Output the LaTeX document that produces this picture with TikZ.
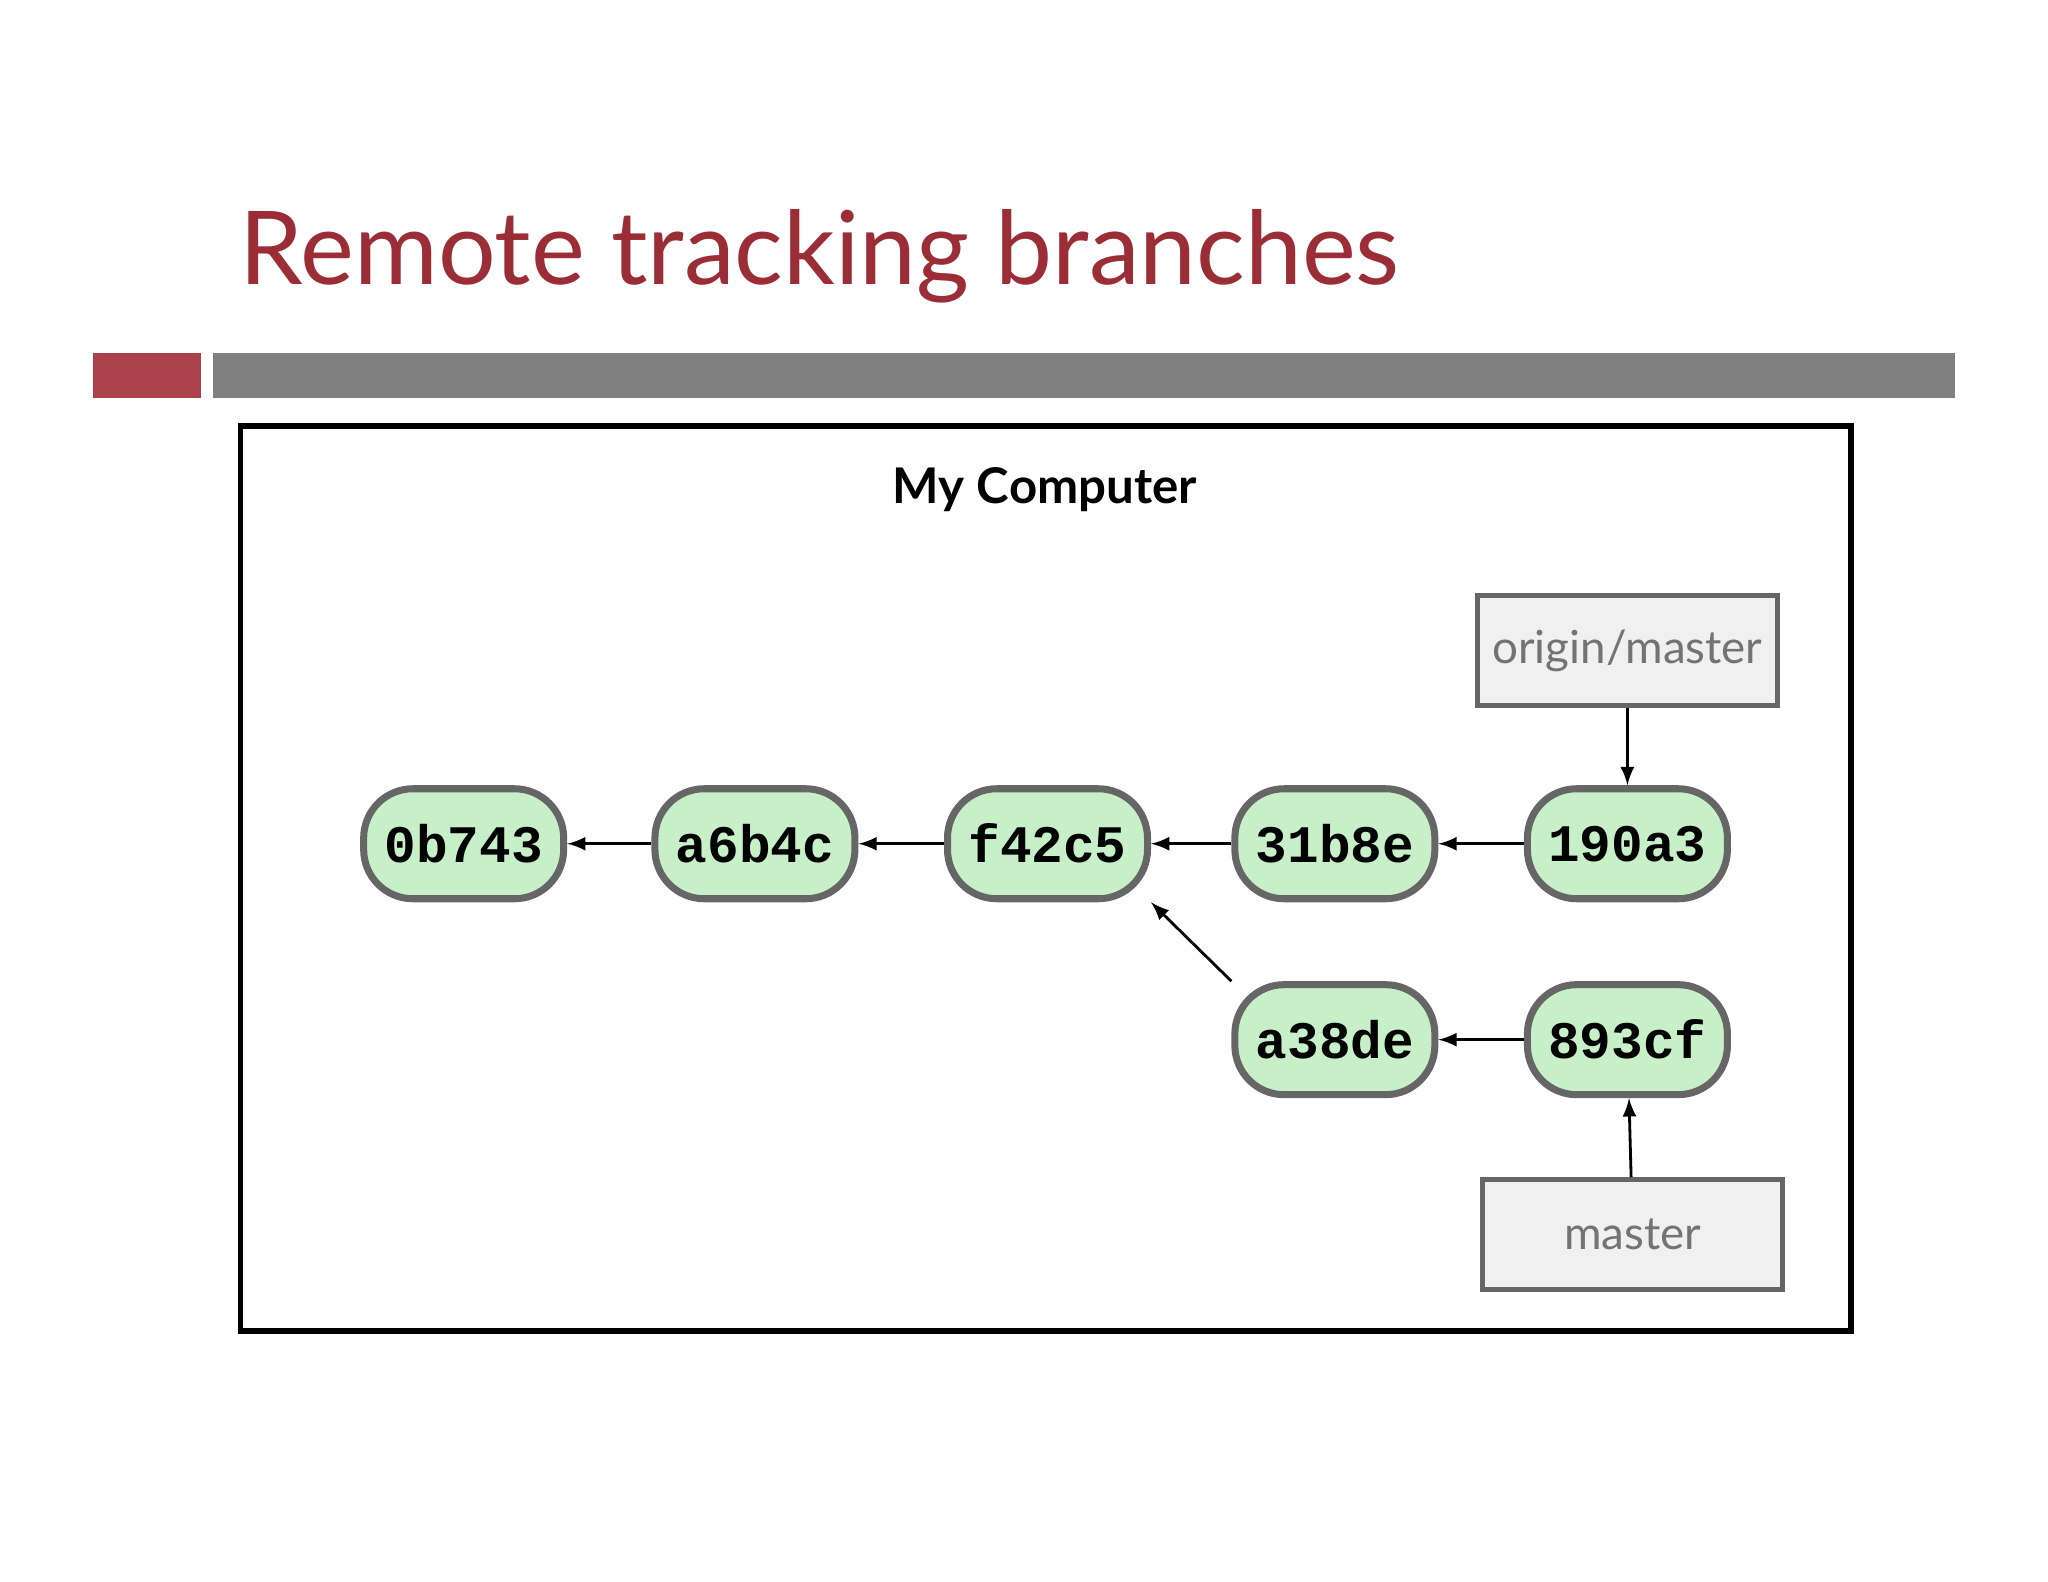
\documentclass[tikz,border=0pt]{standalone}
\usepackage{fontspec}
\setmainfont{Lato}
\newfontfamily\monofont{Liberation Mono}
\definecolor{titlered}{RGB}{155,45,55}
\definecolor{barred}{RGB}{170,65,75}
\definecolor{commitgreen}{RGB}{200,240,200}
\begin{document}
\begin{tikzpicture}[x=0.01306cm,y=-0.01306cm,
  commit/.style={draw=black!60,line width=2pt,rounded corners=14pt,fill=commitgreen,
    minimum width=2.0cm,minimum height=1.1cm,font=\monofont\bfseries\fontsize{15}{15}\selectfont},
  branch/.style={draw=black!60,line width=1.3pt,fill=black!6,text=black!55,
    minimum width=3.0cm,minimum height=1.1cm,font=\fontsize{13}{13}\selectfont},
  link/.style={-latex,thick}]
\useasboundingbox (0,0) rectangle (1568,1211);
\node[anchor=base west,text=titlered,font=\fontsize{29}{29}\selectfont,inner sep=0pt] (title) at (183,218) {Remote tracking branches};
\fill[barred] (71,270) rectangle (154,305);
\fill[black!50] (163,270) rectangle (1497,305);
\draw[line width=1.6pt] (184,326) rectangle (1417,1019);
\node[font=\bfseries\fontsize{14}{14}\selectfont] (box) at (800,375) {My Computer};
\node[commit] (c1) at (355,646) {0b743};
\node[commit] (c2) at (578,646) {a6b4c};
\node[commit] (c3) at (802,646) {f42c5};
\node[commit] (c4) at (1022,646) {31b8e};
\node[commit] (c5) at (1246,646) {190a3};
\node[commit] (c6) at (1022,796) {a38de};
\node[commit] (c7) at (1246,796) {893cf};
\node[branch] (om) at (1246,498) {origin/master};
\node[branch] (ma) at (1250,945) {master};
\draw[link] (c2) -- (c1);
\draw[link] (c3) -- (c2);
\draw[link] (c4) -- (c3);
\draw[link] (c5) -- (c4);
\draw[link] (c7) -- (c6);
\draw[link] (c6.north west) -- (c3.south east);
\draw[link] (om) -- (c5);
\draw[link] (ma) -- (c7);
\end{tikzpicture}
\end{document}
